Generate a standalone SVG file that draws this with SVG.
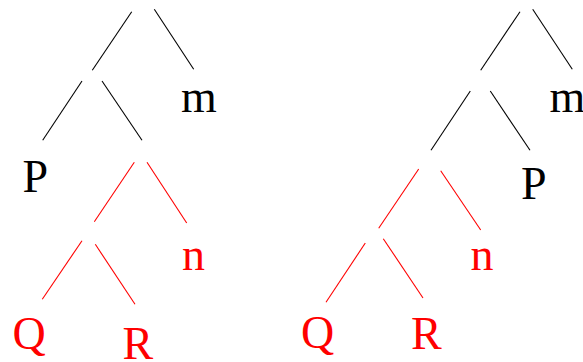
<svg xmlns="http://www.w3.org/2000/svg" width="583" height="362" viewBox="0 0 583 362">
<style>
.t{font-family:"Liberation Serif","Times New Roman",serif;font-size:46px}
.k{fill:#000}
.r{fill:#ff0000}
.lk{stroke:#000;stroke-width:1.1;fill:none}
.lr{stroke:#ff0000;stroke-width:1.1;fill:none}
</style>
<rect width="583" height="362" fill="#fff"/>
<g id="connectors">
<line class="lk" x1="131.7" y1="11.7" x2="92.3" y2="70.3"/>
<line class="lk" x1="154.3" y1="9.3" x2="193.7" y2="69.3"/>
<line class="lk" x1="82" y1="81" x2="42.7" y2="140.3"/>
<line class="lk" x1="102" y1="81" x2="142" y2="140.3"/>
<line class="lr" x1="134.3" y1="162.3" x2="94.3" y2="221.7"/>
<line class="lr" x1="147" y1="162.3" x2="186.7" y2="223"/>
<line class="lr" x1="82" y1="240.7" x2="42.3" y2="299.3"/>
<line class="lr" x1="95.3" y1="244.3" x2="135" y2="304.3"/>
<line class="lk" x1="520" y1="11.7" x2="480.7" y2="70.3"/>
<line class="lk" x1="532.7" y1="9.3" x2="572.3" y2="69.3"/>
<line class="lk" x1="470.3" y1="91" x2="431" y2="150.3"/>
<line class="lk" x1="490.3" y1="91" x2="530" y2="150.3"/>
<line class="lr" x1="418.7" y1="169" x2="378.7" y2="228.3"/>
<line class="lr" x1="440.7" y1="170.7" x2="480.7" y2="230"/>
<line class="lr" x1="365.3" y1="243" x2="326" y2="302.3"/>
<line class="lr" x1="383.3" y1="238.7" x2="423" y2="298"/>
</g>
<g id="m1"><text class="t k" x="181" y="111.7">m</text></g>
<g id="P1"><text class="t k" x="22.5" y="192">P</text></g>
<g id="n1"><text class="t r" x="182" y="270.3">n</text></g>
<g id="Q1"><text class="t r" x="12.5" y="348.5">Q</text></g>
<g id="R1"><text class="t r" x="122.5" y="359.3">R</text></g>
<g id="m2"><text class="t k" x="549.5" y="111.7">m</text></g>
<g id="P2"><text class="t k" x="521" y="199.3">P</text></g>
<g id="n2"><text class="t r" x="470.5" y="270.3">n</text></g>
<g id="Q2"><text class="t r" x="301" y="347.7">Q</text></g>
<g id="R2"><text class="t r" x="411" y="349.3">R</text></g>
</svg>
